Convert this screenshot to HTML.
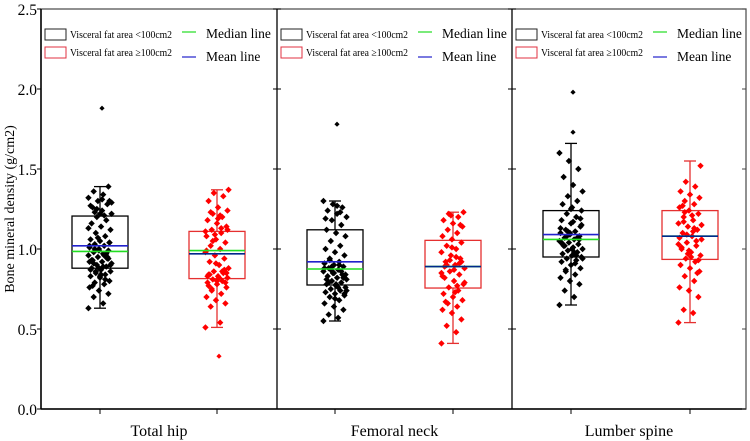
<!DOCTYPE html>
<html><head><meta charset="utf-8"><style>
html,body{margin:0;padding:0;background:#fff;}
svg{display:block;font-family:"Liberation Serif",serif;}
</style></head><body>
<svg id="chart" width="750" height="441" viewBox="0 0 750 441" xmlns="http://www.w3.org/2000/svg"></svg>
<script>
const panels = ["Total hip","Femoral neck","Lumber spine"];
const yTicks = [0,0.5,1.0,1.5,2.0,2.5];
const yTickLabels = ["0.0","0.5","1.0","1.5","2.0","2.5"];
// per group: [q1,median,q3,mean,whiskerMin,whiskerMax]
const boxBlack = [[0.88,0.985,1.206,1.02,0.63,1.39],[0.775,0.875,1.12,0.92,0.55,1.30],[0.95,1.06,1.24,1.09,0.65,1.66]];
const boxRed   = [[0.815,0.99,1.11,0.97,0.51,1.37],[0.756,0.89,1.054,0.89,0.41,1.23],[0.935,1.08,1.24,1.08,0.54,1.55]];
const outBlack = [[1.88],[1.78],[1.98,1.73]];
const outRed = [[0.33],[],[]];
const ptsBlack0 = [0.63,0.66,0.70,0.72,0.74,0.76,0.78,0.79,0.80,0.82,0.83,0.84,0.85,0.86,0.87,0.88,0.89,0.90,0.91,0.92,0.93,0.94,0.95,0.96,0.97,0.98,0.99,1.00,1.01,1.02,1.03,1.04,1.05,1.06,1.08,1.10,1.12,1.14,1.16,1.18,1.20,1.22,1.24,1.26,1.28,1.30,1.32,1.34,1.36,1.39,0.88,0.92,0.96,1.00,1.04,1.22,1.27,0.81,0.86,0.90,0.84,0.93,0.97,1.25,1.29,1.31,0.77,0.95,1.07,1.13,0.89,0.91,0.94,0.99,1.02,1.21,1.23,1.30,0.83,0.87];
const ptsRed0 = [0.51,0.54,0.64,0.66,0.68,0.70,0.72,0.74,0.76,0.78,0.79,0.80,0.81,0.82,0.83,0.84,0.85,0.86,0.88,0.90,0.92,0.94,0.96,0.98,1.00,1.02,1.04,1.06,1.08,1.10,1.12,1.14,1.16,1.18,1.20,1.22,1.24,1.26,1.30,1.33,1.35,1.37,0.82,0.84,0.87,1.09,1.11,1.21,1.23,0.79,0.91,0.99,1.13,0.75,0.85,0.80,0.83,0.86,1.05,1.12,1.19,0.77];
const ptsBlack1 = [0.55,0.57,0.59,0.62,0.64,0.66,0.68,0.70,0.71,0.72,0.73,0.74,0.75,0.76,0.77,0.78,0.79,0.80,0.81,0.82,0.83,0.84,0.85,0.86,0.87,0.88,0.89,0.90,0.91,0.92,0.94,0.96,0.98,1.00,1.02,1.05,1.08,1.10,1.12,1.15,1.18,1.20,1.22,1.24,1.26,1.28,1.30,0.76,0.79,0.82,0.85,0.88,0.90,0.93,0.72,0.69,1.19,1.23,0.87,0.84,0.78,0.81,0.86,0.89,0.74,1.27];
const ptsRed1 = [0.41,0.48,0.52,0.56,0.60,0.62,0.64,0.66,0.68,0.70,0.72,0.74,0.76,0.78,0.80,0.82,0.84,0.86,0.88,0.90,0.92,0.94,0.96,0.98,1.00,1.02,1.04,1.06,1.08,1.10,1.12,1.14,1.16,1.18,1.20,1.22,1.23,0.87,0.89,0.91,0.93,0.79,0.73,0.67,1.15,1.21,0.85,0.95,0.90,0.92,1.01,0.83,0.77];
const ptsBlack2 = [0.65,0.70,0.74,0.78,0.80,0.82,0.84,0.86,0.88,0.90,0.92,0.93,0.94,0.95,0.96,0.97,0.98,0.99,1.00,1.01,1.02,1.03,1.04,1.05,1.06,1.07,1.08,1.09,1.10,1.11,1.12,1.14,1.16,1.18,1.20,1.22,1.24,1.26,1.28,1.30,1.33,1.36,1.40,1.45,1.50,1.55,1.60,0.98,1.02,1.06,1.10,1.13,0.91,0.87,1.19,1.25,1.04,0.96,1.08,1.15,1.00,1.03,1.07,1.11,0.94,1.17];
const ptsRed2 = [0.54,0.60,0.62,0.70,0.74,0.76,0.80,0.83,0.86,0.88,0.90,0.92,0.94,0.96,0.98,1.00,1.02,1.04,1.06,1.08,1.10,1.12,1.14,1.16,1.18,1.20,1.22,1.24,1.26,1.28,1.30,1.32,1.34,1.36,1.39,1.42,1.52,0.95,1.01,1.05,1.09,1.15,1.21,1.27,0.85,0.97,1.03,1.11,1.17,0.93,0.99,1.07,1.13,1.23];
const ptsBlack = [ptsBlack0,ptsBlack1,ptsBlack2];
const ptsRed = [ptsRed0,ptsRed1,ptsRed2];

const svg = document.getElementById('chart');
const NS = 'http://www.w3.org/2000/svg';
const X0 = 41, X1 = 746, Y0 = 409, Y1 = 9, YMAX = 2.5;
const panelEdges = [41,277,512,746];
const centers = [[100,217],[335,453],[571,690]];
function y(v){ return Y0 - (v / YMAX) * (Y0 - Y1); }
function mk(tag, attrs, parent){
  const e = document.createElementNS(NS, tag);
  for (const k in attrs) e.setAttribute(k, attrs[k]);
  (parent || svg).appendChild(e);
  return e;
}
function txt(s, attrs, parent){ const e = mk('text', attrs, parent); e.textContent = s; return e; }

const frame = mk('rect', {x:X0, y:Y1, width:X1-X0, height:Y0-Y1, fill:'none', stroke:'#555', 'stroke-width':1.3});


mk('line', {x1:X0, y1:Y0, x2:X1, y2:Y0, stroke:'#000', 'stroke-width':1.5});
mk('line', {x1:X0, y1:Y0, x2:X0, y2:Y1, stroke:'#000', 'stroke-width':1.5});
for (let p = 1; p < 3; p++) {
  const d = mk('line', {x1:panelEdges[p], y1:Y1, x2:panelEdges[p], y2:Y0, stroke:'#000', 'stroke-width':1.3});
  
  
}

yTicks.forEach((v, i) => {
  mk('line', {x1:X0-4, y1:y(v), x2:X0, y2:y(v), stroke:'#000', 'stroke-width':1});
  for (let p = 1; p < 3; p++) mk('line', {x1:panelEdges[p]-4, y1:y(v), x2:panelEdges[p]+4, y2:y(v), stroke:'#000', 'stroke-width':1});
  mk('line', {x1:X1-4, y1:y(v), x2:X1, y2:y(v), stroke:'#444', 'stroke-width':1});
  const t = txt(yTickLabels[i], {x:X0-4, y:y(v)+6, 'text-anchor':'end', 'font-size':15.5});
  
  
});
const yt = txt('Bone mineral density (g/cm2)', {x:0, y:0, 'text-anchor':'middle', 'font-size':14, transform:'translate(14,209) rotate(-90)'});



function drawGroup(px, box, pts, outs, color, isBlack){
  const g = mk('g', {});
  
  
  const [q1, med, q3, mean, wmin, wmax] = box;
  const hw = 28;
  mk('line', {x1:px, y1:y(wmax), x2:px, y2:y(q3), stroke:color, 'stroke-width':1.3}, g);
  mk('line', {x1:px, y1:y(q1), x2:px, y2:y(wmin), stroke:color, 'stroke-width':1.3}, g);
  mk('line', {x1:px-6, y1:y(wmax), x2:px+6, y2:y(wmax), stroke:color, 'stroke-width':1.3}, g);
  mk('line', {x1:px-6, y1:y(wmin), x2:px+6, y2:y(wmin), stroke:color, 'stroke-width':1.3}, g);
  mk('rect', {x:px-hw, y:y(q3), width:2*hw, height:y(q1)-y(q3), fill:'none', stroke:color, 'stroke-width':1.3}, g);
  pts.forEach((v, i) => {
    const dx = (((i * 37) % 23) - 11) * 1.05;
    const cy = y(v), cx = px + dx;
    const d = mk('path', {d:`M${cx},${cy-3.2}L${cx+3.2},${cy}L${cx},${cy+3.2}L${cx-3.2},${cy}Z`, fill:isBlack ? '#000' : '#f00'}, g);
    
    
  });
  outs.forEach((v) => {
    const cy = y(v), cx = px + 2;
    const d = mk('path', {d:`M${cx},${cy-2.6}L${cx+2.6},${cy}L${cx},${cy+2.6}L${cx-2.6},${cy}Z`, fill:isBlack ? '#000' : '#f00'}, g);
    
    
  });
  const ml = mk('line', {x1:px-hw, y1:y(med), x2:px+hw, y2:y(med), stroke:'#22dd22', 'stroke-width':1.6}, g);
  
  
  const mn = mk('line', {x1:px-hw, y1:y(mean), x2:px+hw, y2:y(mean), stroke:isBlack ? '#2222cc' : '#00288c', 'stroke-width':1.6}, g);
  
  
}

panels.forEach((name, p) => {
  const [c1, c2] = centers[p];
  mk('line', {x1:c1, y1:Y0, x2:c1, y2:Y0+5, stroke:'#000'});
  mk('line', {x1:c2, y1:Y0, x2:c2, y2:Y0+5, stroke:'#000'});
  drawGroup(c1, boxBlack[p], ptsBlack[p], outBlack[p], '#000', true);
  drawGroup(c2, boxRed[p], ptsRed[p], outRed[p], '#e53030', false);
  const lbl = txt(name, {x:(panelEdges[p]+panelEdges[p+1])/2, y:436, 'text-anchor':'middle', 'font-size':16});
  
  
  const lx = panelEdges[p] + 4;
  const lg = mk('g', {});
  
  
  mk('rect', {x:lx, y:29, width:21, height:11, fill:'none', stroke:'#222', 'stroke-width':1}, lg);
  mk('rect', {x:lx, y:47, width:21, height:11, fill:'none', stroke:'#e03040', 'stroke-width':1}, lg);
  txt('Visceral fat area <100cm2', {x:lx+25, y:38, 'font-size':10.5, textLength:102, lengthAdjust:'spacingAndGlyphs'}, lg);
  txt('Visceral fat area \u2265100cm2', {x:lx+25, y:56, 'font-size':10.5, textLength:102, lengthAdjust:'spacingAndGlyphs'}, lg);
  mk('line', {x1:lx+137, y1:32, x2:lx+151, y2:32, stroke:'#22dd22', 'stroke-width':1.2}, lg);
  mk('line', {x1:lx+137, y1:57, x2:lx+151, y2:57, stroke:'#2222cc', 'stroke-width':1.2}, lg);
  txt('Median line', {x:lx+161, y:38, 'font-size':13.5}, lg);
  txt('Mean line', {x:lx+161, y:61, 'font-size':13.5}, lg);
});
</script>
</body></html>
